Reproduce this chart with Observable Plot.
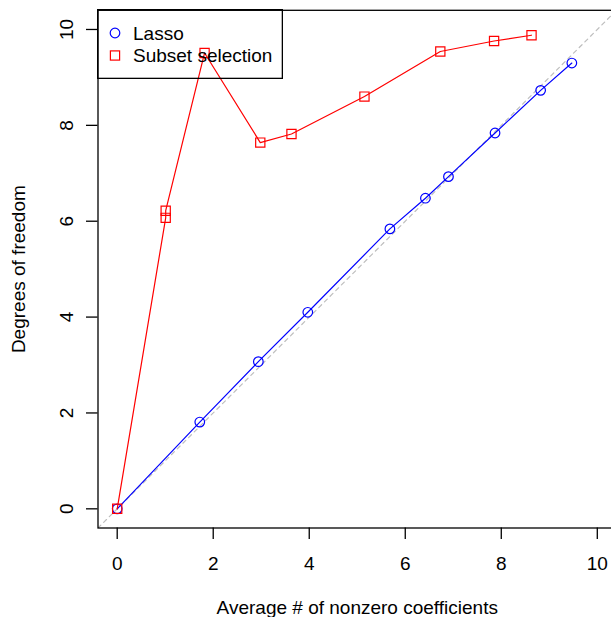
<!DOCTYPE html>
<html>
<head>
<meta charset="utf-8">
<script src="https://cdn.jsdelivr.net/npm/d3@7"></script>
<script src="https://cdn.jsdelivr.net/npm/@observablehq/plot@0.6"></script>
<style>
  html, body { margin: 0; padding: 0; background: #fff; overflow: hidden; }
  #wrap { position: relative; width: 611px; height: 617px; overflow: hidden; font-family: "Liberation Sans", Arial, sans-serif; }
  #wrap > svg { max-width: none !important; }
</style>
</head>
<body>
<div id="wrap"></div>
<script>
// Data
const lassoX = [0, 1.72, 2.94, 3.97, 5.68, 6.42, 6.90, 7.87, 8.82, 9.47];
const lassoY = [0, 1.81, 3.07, 4.10, 5.84, 6.48, 6.93, 7.84, 8.73, 9.30];
const subsetX = [0, 1.01, 1.01, 1.82, 2.98, 3.63, 5.15, 6.73, 7.85, 8.63];
const subsetY = [0, 6.07, 6.22, 9.51, 7.64, 7.82, 8.60, 9.54, 9.76, 9.88];
const xTicks = [0, 2, 4, 6, 8, 10];
const yTicks = [0, 2, 4, 6, 8, 10];
const xLabel = "Average # of nonzero coefficients";
const yLabel = "Degrees of freedom";
const seriesNames = ["Lasso", "Subset selection"];
const seriesColors = ["#0000FF", "#FF0000"];
const domain = [-0.4, 10.4];

const lasso = lassoX.map((x, i) => ({x, y: lassoY[i]}));
const subset = subsetX.map((x, i) => ({x, y: subsetY[i]}));
const diag = domain.map(v => ({x: v, y: v}));

const plot = Plot.plot({
  width: 616,
  height: 617,
  marginLeft: 97.5,
  marginRight: 0,
  marginTop: 9.8,
  marginBottom: 89.5,
  style: {fontFamily: "Liberation Sans, Arial, sans-serif", fontSize: "19px", color: "black", background: "white"},
  x: {domain, ticks: xTicks},
  y: {domain, ticks: yTicks},
  marks: [
    Plot.line(diag, {x: "x", y: "y", stroke: "#BEBEBE", strokeWidth: 1.2, strokeDasharray: "4,4", clip: true}),
    Plot.line(lasso, {x: "x", y: "y", stroke: seriesColors[0], strokeWidth: 1.2}),
    Plot.dot(lasso, {x: "x", y: "y", stroke: seriesColors[0], r: 4.8, strokeWidth: 1.2}),
    Plot.line(subset, {x: "x", y: "y", stroke: seriesColors[1], strokeWidth: 1.2}),
    Plot.dot(subset, {x: "x", y: "y", stroke: seriesColors[1], symbol: "square", r: 5.2, strokeWidth: 1.2}),
    Plot.frame({stroke: "black", strokeWidth: 1.3}),
    Plot.axisX({ticks: xTicks, tickSize: 11.5, tickPadding: 17, tickFormat: d => String(d), label: null, strokeWidth: 1.3}),
    Plot.axisY({ticks: yTicks, tickSize: 11.5, tickFormat: () => "", label: null, strokeWidth: 1.3}),
    Plot.text(yTicks, {y: d => d, text: d => String(d), frameAnchor: "left", dx: -25.5, rotate: -90, textAnchor: "middle", lineAnchor: "bottom"}),
    Plot.text([xLabel], {text: d => d, frameAnchor: "bottom", dy: 79.5, lineAnchor: "middle"}),
    Plot.text([yLabel], {text: d => d, frameAnchor: "left", dx: -79.5, rotate: -90, lineAnchor: "middle", textAnchor: "middle"})
  ]
});
plot.style.maxWidth = "none";
const wrap = document.getElementById("wrap");
wrap.appendChild(plot);

// Legend overlay (transparent box, as in the reference)
const ns = "http://www.w3.org/2000/svg";
const leg = document.createElementNS(ns, "svg");
leg.setAttribute("width", 186);
leg.setAttribute("height", 70);
leg.style.position = "absolute";
leg.style.left = "97px";
leg.style.top = "9px";
leg.style.fontFamily = "Liberation Sans, Arial, sans-serif";
const rect = document.createElementNS(ns, "rect");
rect.setAttribute("x", 0.65); rect.setAttribute("y", 0.65);
rect.setAttribute("width", 184.7); rect.setAttribute("height", 68.7);
rect.setAttribute("fill", "none"); rect.setAttribute("stroke", "black"); rect.setAttribute("stroke-width", 1.3);
leg.appendChild(rect);
seriesNames.forEach((name, i) => {
  const cy = 24 + i * 22.5;
  let sym;
  if (i === 0) {
    sym = document.createElementNS(ns, "circle");
    sym.setAttribute("cx", 18); sym.setAttribute("cy", cy); sym.setAttribute("r", 4.8);
  } else {
    sym = document.createElementNS(ns, "rect");
    sym.setAttribute("x", 18 - 4.6); sym.setAttribute("y", cy - 4.6);
    sym.setAttribute("width", 9.2); sym.setAttribute("height", 9.2);
  }
  sym.setAttribute("fill", "none"); sym.setAttribute("stroke", seriesColors[i]); sym.setAttribute("stroke-width", 1.2);
  leg.appendChild(sym);
  const t = document.createElementNS(ns, "text");
  t.setAttribute("x", 36); t.setAttribute("y", cy + 6.5);
  t.setAttribute("font-size", 19);
  t.textContent = name;
  leg.appendChild(t);
});
wrap.appendChild(leg);
</script>
</body>
</html>
